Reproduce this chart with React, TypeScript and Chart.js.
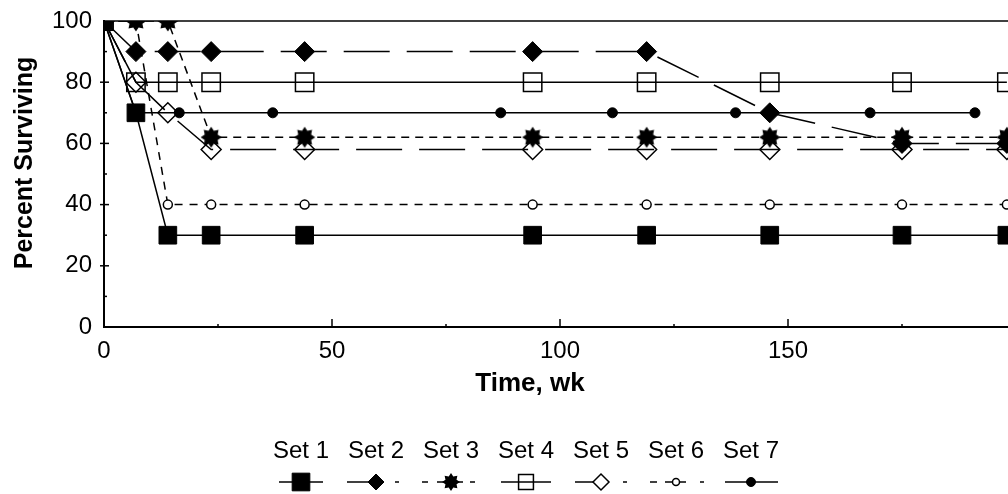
import React, { useEffect, useRef } from "react";
import { Chart, registerables } from "chart.js";
import { drawPoint } from "chart.js/helpers";

Chart.register(...registerables);

// ---- data ----
const timesMain = [0, 7, 14, 23.5, 44, 94, 119, 146, 175, 198];
const timesSet7 = [0, 7, 16.5, 37, 87, 111.5, 138.5, 168, 191];
const set1 = [100, 70, 30, 30, 30, 30, 30, 30, 30, 30];
const set2 = [100, 90, 90, 90, 90, 90, 90, 70, 60, 60];
const set3 = [100, 100, 100, 62, 62, 62, 62, 62, 62, 62];
const set4 = [100, 80, 80, 80, 80, 80, 80, 80, 80, 80];
const set5 = [100, 80, 70, 58, 58, 58, 58, 58, 58, 58];
const set6 = [100, 100, 40, 40, 40, 40, 40, 40, 40, 40];
const set7 = [100, 70, 70, 70, 70, 70, 70, 70, 70];
const seriesNames = ["Set 1", "Set 2", "Set 3", "Set 4", "Set 5", "Set 6", "Set 7"];
const xTickValues = [0, 50, 100, 150];
const yTickValues = [0, 20, 40, 60, 80, 100];
const xMinorTicks = [25, 75, 125, 175];
const yMinorTicks = [10, 30, 50, 70, 90];
const xTitle = "Time, wk";
const yTitle = "Percent Surviving";

const FONT = '"Liberation Sans", Arial, Helvetica, sans-serif';

function makeStar(size: number, outer: number, inner: number, points: number) {
  const c = document.createElement("canvas");
  c.width = size;
  c.height = size;
  const ctx = c.getContext("2d")!;
  ctx.fillStyle = "#000";
  ctx.beginPath();
  for (let i = 0; i < points * 2; i++) {
    const r = i % 2 ? inner : outer;
    const a = (Math.PI * i) / points - Math.PI / 2;
    ctx.lineTo(size / 2 + r * Math.cos(a), size / 2 + r * Math.sin(a));
  }
  ctx.closePath();
  ctx.fill();
  return c;
}

function pts(xs: number[], ys: number[]) {
  return xs.map((x, i) => ({ x, y: ys[i] }));
}

export default function App() {
  const ref = useRef<HTMLCanvasElement | null>(null);

  useEffect(() => {
    const canvas = ref.current!;
    const star = makeStar(24, 10.5, 7, 8);
    const starSmall = makeStar(20, 9, 6, 8);

    const markerDefs: any[] = [
      { pointStyle: "rect", radius: 12.5, fill: "#000", bw: 1 },
      { pointStyle: "rectRot", radius: 8, fill: "#000", bw: 1 },
      { pointStyle: starSmall, radius: 8, fill: "#000", bw: 0 },
      { pointStyle: "rect", radius: 10.5, fill: "rgba(0,0,0,0)", bw: 1.5 },
      { pointStyle: "rectRot", radius: 8, fill: "#fff", bw: 1.5 },
      { pointStyle: "circle", radius: 3.5, fill: "#fff", bw: 1.5 },
      { pointStyle: "circle", radius: 4.5, fill: "#000", bw: 1 },
    ];
    // legend line segments relative to item centre
    const legendSegs: number[][][] = [
      [[-22, 22]],
      [[-29, 0], [19, 23]],
      [[-29, -23], [-14, 12], [19, 24]],
      [[-25, 25]],
      [[-26, 0], [22, 26]],
      [[-26, -19], [-11, 10], [24, 28]],
      [[-26, 27]],
    ];

    const overlay = {
      id: "overlay",
      afterDraw(chart: any) {
        const ctx = chart.ctx as CanvasRenderingContext2D;
        const { top, left, right, bottom } = chart.chartArea;
        const xs = chart.scales.x;
        const ys = chart.scales.y;
        ctx.save();
        ctx.strokeStyle = "#000";
        ctx.fillStyle = "#000";
        const seg = (x0: number, y0: number, x1: number, y1: number) => {
          ctx.beginPath();
          ctx.moveTo(x0, y0);
          ctx.lineTo(x1, y1);
          ctx.stroke();
        };
        ctx.lineWidth = 1.5;
        seg(left, top, right, top);
        xTickValues.forEach((v) => {
          if (v === 0) return;
          const px = xs.getPixelForValue(v);
          seg(px, bottom, px, bottom - 8);
        });
        xMinorTicks.forEach((v) => {
          const px = xs.getPixelForValue(v);
          seg(px, bottom, px, bottom - 3);
        });
        yTickValues.forEach((v) => {
          if (v === 0 || v === 100) return;
          const py = ys.getPixelForValue(v);
          seg(left - 4, py, left + 5, py);
        });
        yMinorTicks.forEach((v) => {
          const py = ys.getPixelForValue(v);
          seg(left, py, left + 3, py);
        });

        // axis titles
        ctx.textAlign = "center";
        ctx.textBaseline = "middle";
        ctx.font = `bold 26px ${FONT}`;
        ctx.fillText(xTitle, 530, 384);
        ctx.save();
        ctx.translate(25, 163);
        ctx.rotate(-Math.PI / 2);
        ctx.font = `bold 25px ${FONT}`;
        ctx.fillText(yTitle, 0, 0);
        ctx.restore();

        // legend
        seriesNames.forEach((name, i) => {
          const cx = 301 + 75 * i;
          ctx.font = `24px ${FONT}`;
          ctx.textAlign = "center";
          ctx.textBaseline = "alphabetic";
          ctx.fillStyle = "#000";
          ctx.fillText(name, cx, 458);
          const ly = 482;
          ctx.lineWidth = 1.5;
          ctx.strokeStyle = "#000";
          ctx.setLineDash([]);
          legendSegs[i].forEach(([a, b]) => seg(cx + a, ly, cx + b, ly));
          const m = markerDefs[i];
          ctx.fillStyle = m.fill;
          ctx.lineWidth = m.bw;
          drawPoint(ctx, { pointStyle: m.pointStyle, radius: m.radius, rotation: 0, borderWidth: m.bw } as any, cx, ly);
          ctx.fillStyle = "#000";
        });
        ctx.restore();
      },
    };

    const base = {
      borderColor: "#000",
      pointBorderColor: "#000",
      borderWidth: 1.5,
      fill: false,
      tension: 0,
      clip: 0,
    };

    const chart = new Chart(canvas, {
      type: "line",
      data: {
        datasets: [
          { ...base, label: seriesNames[0], data: pts(timesMain, set1), pointStyle: "rect", pointRadius: 12.5, pointBackgroundColor: "#000", pointBorderWidth: 1 },
          { ...base, label: seriesNames[1], data: pts(timesMain, set2), borderDash: [46, 17], pointStyle: "rectRot", pointRadius: 10, pointBackgroundColor: "#000", pointBorderWidth: 1 },
          { ...base, label: seriesNames[2], data: pts(timesMain, set3), borderDash: [8, 6], pointStyle: star, pointRadius: 11, pointBackgroundColor: "#000", pointBorderWidth: 0 },
          { ...base, label: seriesNames[3], data: pts(timesMain, set4), pointStyle: "rect", pointRadius: 13, pointBackgroundColor: "rgba(0,0,0,0)", pointBorderWidth: 1.5 },
          { ...base, label: seriesNames[4], data: pts(timesMain, set5), borderDash: [46, 17], pointStyle: "rectRot", pointRadius: 10, pointBackgroundColor: "rgba(0,0,0,0)", pointBorderWidth: 1.5 },
          { ...base, label: seriesNames[5], data: pts(timesMain, set6), borderDash: [8, 7], pointStyle: "circle", pointRadius: 4.5, pointBackgroundColor: "#fff", pointBorderWidth: 1.5 },
          { ...base, label: seriesNames[6], data: pts(timesSet7, set7), pointStyle: "circle", pointRadius: 5, pointBackgroundColor: "#000", pointBorderWidth: 1 },
        ] as any,
      },
      options: {
        responsive: false,
        animation: false,
        devicePixelRatio: 1,
        layout: { padding: { top: 21, right: 24, left: 0, bottom: 0 } },
        plugins: { legend: { display: false }, tooltip: { enabled: false } },
        elements: { point: { hoverRadius: 0 } },
        scales: {
          x: {
            type: "linear",
            min: 0,
            max: 200,
            grid: { display: false, drawTicks: false },
            border: { display: true, color: "#000", width: 2 },
            ticks: { stepSize: 50, color: "#000", font: { family: FONT, size: 24 }, padding: 10, maxRotation: 0 },
            afterBuildTicks: (scale: any) => {
              scale.ticks = xTickValues.map((v) => ({ value: v }));
            },
            afterFit: (scale: any) => {
              scale.height = 167;
              scale.paddingLeft = 0;
              scale.paddingRight = 0;
            },
          },
          y: {
            type: "linear",
            min: 0,
            max: 100,
            grid: { display: false, drawTicks: false },
            border: { display: true, color: "#000", width: 2 },
            ticks: { stepSize: 20, color: "#000", font: { family: FONT, size: 24 }, padding: 12 },
            afterBuildTicks: (scale: any) => {
              scale.ticks = yTickValues.map((v) => ({ value: v }));
            },
            afterFit: (scale: any) => {
              scale.width = 104;
              scale.paddingTop = 0;
              scale.paddingBottom = 0;
            },
          },
        },
      } as any,
      plugins: [overlay],
    });
    return () => chart.destroy();
  }, []);

  return (
    <div
      style={{
        position: "fixed",
        left: 0,
        top: 0,
        width: 1008,
        height: 494,
        overflow: "hidden",
        background: "#fff",
      }}
    >
      <canvas ref={ref} width={1040} height={494} style={{ display: "block", width: 1040, height: 494 }} />
    </div>
  );
}
